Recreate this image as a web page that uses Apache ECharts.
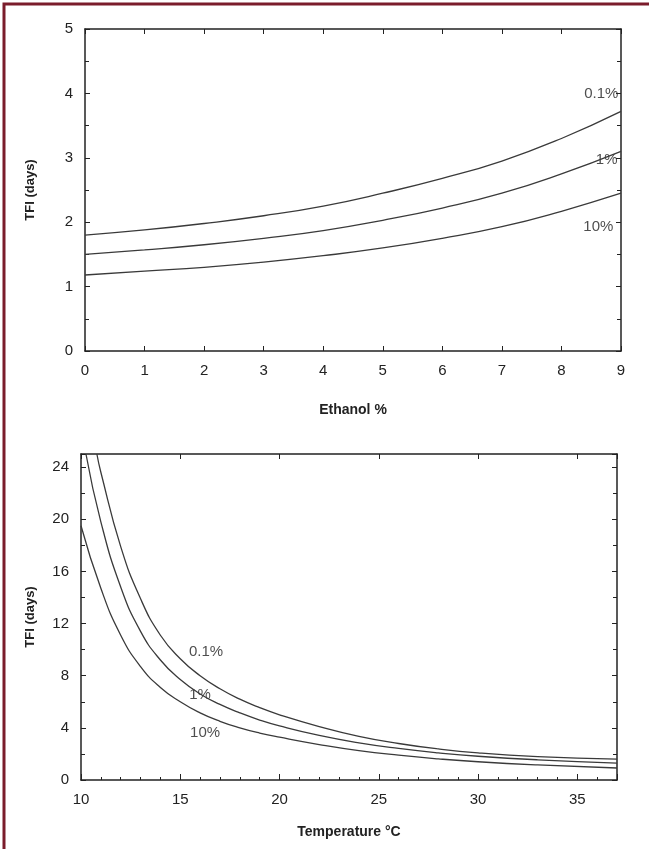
<!DOCTYPE html>
<html>
<head>
<meta charset="utf-8">
<script src="https://cdn.jsdelivr.net/npm/echarts@6/dist/echarts.min.js"></script>
<style>
html,body{margin:0;padding:0;background:#fff;}
#c{width:649px;height:849px;}
</style>
</head>
<body>
<div id="c"></div>
<script>
// Top chart: TFI vs Ethanol %
var ethanol = [0,1,2,3,4,5,6,7,8,9];
var top01 = [1.80,1.88,1.98,2.10,2.25,2.45,2.68,2.95,3.30,3.72];
var top1  = [1.50,1.57,1.65,1.75,1.87,2.03,2.22,2.45,2.75,3.10];
var top10 = [1.18,1.24,1.30,1.38,1.48,1.60,1.75,1.93,2.17,2.45];

// Bottom chart: TFI vs Temperature
var temp01 = [10.8,11,12,13,14,15,16,17,18,19,20,22,24,26,28,30,33,37];
var bot01  = [25,23.6,17.9,13.9,11.1,9.3,8.0,7.0,6.2,5.55,5.0,4.1,3.35,2.8,2.38,2.08,1.8,1.6];
var temp1  = [10.25,11,12,13,14,15,16,17,18,19,20,22,24,26,28,30,33,37];
var bot1   = [25,19.8,14.8,11.4,9.2,7.7,6.6,5.8,5.15,4.6,4.15,3.42,2.85,2.42,2.08,1.82,1.55,1.3];
var temp10 = [10,11,12,13,14,15,16,17,18,19,20,22,24,26,28,30,33,37];
var bot10  = [19.5,14.7,11.1,8.7,7.1,6.0,5.15,4.5,4.0,3.6,3.28,2.72,2.25,1.9,1.62,1.40,1.16,0.92];

var curveNames = ['0.1%','1%','10%'];

function zip(xs, ys){ return xs.map(function(x,i){ return [x, ys[i]]; }); }

var FONT = '"Liberation Sans", Arial, sans-serif';
var axisLineStyle = {color:'#222', width:1.5};
var lineStyle = {color:'#3a3a3a', width:1.3};

function lineSeries(xi, yi, data){
  return {type:'line', xAxisIndex:xi, yAxisIndex:yi, data:data, smooth:0.5,
          showSymbol:false, lineStyle:lineStyle, silent:true};
}
function labelSeries(xi, yi, pos, text){
  return {type:'scatter', xAxisIndex:xi, yAxisIndex:yi, symbolSize:0, data:[pos], silent:true,
          label:{show:true, position:'inside', formatter:text, color:'#222', fontSize:15, fontFamily:FONT}};
}
function mirrorX(grid, min, max, interval, pos){
  return {type:'value', gridIndex:grid, min:min, max:max, interval:interval, position:pos,
          axisLine:{show:true, onZero:false, lineStyle:axisLineStyle},
          axisTick:{show:true, inside:true, length:5, lineStyle:{color:'#222'}},
          axisLabel:{show:false}, splitLine:{show:false}};
}

var chart = echarts.init(document.getElementById('c'));
chart.setOption({
  backgroundColor:'#fff',
  animation:false,
  graphic:[{type:'rect', shape:{x:4, y:4, width:700, height:900},
            style:{fill:'none', stroke:'#7b1c2b', lineWidth:3}}],
  grid:[
    {left:85, top:29, width:536, height:322},
    {left:81, top:454, width:536, height:326}
  ],
  xAxis:[
    {type:'value', gridIndex:0, min:0, max:9, interval:1, position:'bottom',
     name:'Ethanol %', nameLocation:'middle', nameGap:52,
     nameTextStyle:{fontSize:14, fontWeight:'bold', fontFamily:FONT, color:'#222'},
     axisLine:{show:true, onZero:false, lineStyle:axisLineStyle},
     axisTick:{show:true, inside:true, length:5, lineStyle:{color:'#222'}},
     axisLabel:{fontSize:15, fontFamily:FONT, color:'#222', margin:12},
     splitLine:{show:false}},
    mirrorX(0, 0, 9, 1, 'top'),
    {type:'value', gridIndex:1, min:10, max:37, interval:5, position:'bottom',
     name:'Temperature °C', nameLocation:'middle', nameGap:45,
     nameTextStyle:{fontSize:14, fontWeight:'bold', fontFamily:FONT, color:'#222'},
     axisLine:{show:true, onZero:false, lineStyle:axisLineStyle},
     axisTick:{show:true, inside:true, length:6, lineStyle:{color:'#222'}},
     minorTick:{show:true, splitNumber:5, length:3, lineStyle:{color:'#222'}},
     axisLabel:{fontSize:15, fontFamily:FONT, color:'#222', margin:12, showMaxLabel:false},
     splitLine:{show:false}},
    mirrorX(1, 10, 37, 5, 'top')
  ],
  yAxis:[
    {type:'value', gridIndex:0, min:0, max:5, interval:1, position:'left',
     name:'TFI (days)', nameLocation:'middle', nameGap:48, nameRotate:90,
     nameTextStyle:{fontSize:13, fontWeight:'bold', fontFamily:FONT, color:'#222'},
     axisLine:{show:true, onZero:false, lineStyle:axisLineStyle},
     axisTick:{show:true, inside:true, length:5, lineStyle:{color:'#222'}},
     minorTick:{show:true, splitNumber:2, length:4, lineStyle:{color:'#222'}},
     axisLabel:{fontSize:15, fontFamily:FONT, color:'#222', margin:12},
     splitLine:{show:false}},
    {type:'value', gridIndex:0, min:0, max:5, interval:1, position:'right',
     axisLine:{show:true, onZero:false, lineStyle:axisLineStyle},
     axisTick:{show:true, inside:true, length:5, lineStyle:{color:'#222'}},
     minorTick:{show:true, splitNumber:2, length:4, lineStyle:{color:'#222'}},
     axisLabel:{show:false}, splitLine:{show:false}},
    {type:'value', gridIndex:1, min:0, max:25, interval:4, position:'left',
     name:'TFI (days)', nameLocation:'middle', nameGap:44, nameRotate:90,
     nameTextStyle:{fontSize:13, fontWeight:'bold', fontFamily:FONT, color:'#222'},
     axisLine:{show:true, onZero:false, lineStyle:axisLineStyle},
     axisTick:{show:true, inside:true, length:5, lineStyle:{color:'#222'}},
     minorTick:{show:true, splitNumber:2, length:4, lineStyle:{color:'#222'}},
     axisLabel:{fontSize:15, fontFamily:FONT, color:'#222', margin:12, showMaxLabel:false},
     splitLine:{show:false}},
    {type:'value', gridIndex:1, min:0, max:25, interval:4, position:'right',
     axisLine:{show:true, onZero:false, lineStyle:axisLineStyle},
     axisTick:{show:true, inside:true, length:5, lineStyle:{color:'#222'}},
     minorTick:{show:true, splitNumber:2, length:4, lineStyle:{color:'#222'}},
     axisLabel:{show:false}, splitLine:{show:false}}
  ],
  series:[
    lineSeries(0, 0, zip(ethanol, top01)),
    lineSeries(0, 0, zip(ethanol, top1)),
    lineSeries(0, 0, zip(ethanol, top10)),
    labelSeries(0, 0, [8.67, 4.0], curveNames[0]),
    labelSeries(0, 0, [8.76, 2.97], curveNames[1]),
    labelSeries(0, 0, [8.62, 1.93], curveNames[2]),
    lineSeries(2, 2, zip(temp01, bot01)),
    lineSeries(2, 2, zip(temp1, bot1)),
    lineSeries(2, 2, zip(temp10, bot10)),
    labelSeries(2, 2, [16.3, 9.8], curveNames[0]),
    labelSeries(2, 2, [16.0, 6.5], curveNames[1]),
    labelSeries(2, 2, [16.25, 3.6], curveNames[2])
  ]
});
</script>
</body>
</html>
